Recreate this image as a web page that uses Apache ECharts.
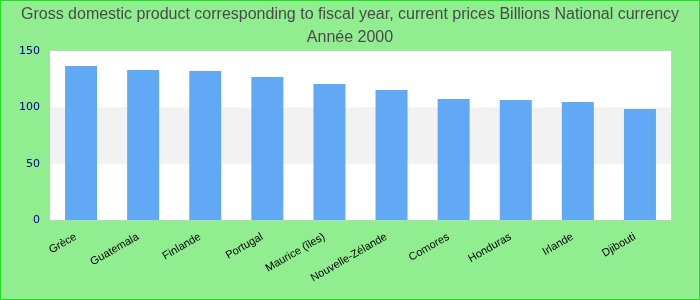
<!DOCTYPE html>
<html>
<head>
<meta charset="utf-8">
<script src="https://cdn.jsdelivr.net/npm/echarts@6/dist/echarts.min.js"></script>
<style>
html,body{margin:0;padding:0;background:#90EE90;}
#chart{width:700px;height:300px;}
</style>
</head>
<body>
<div id="chart"></div>
<script>
var categories = ["Grèce","Guatemala","Finlande","Portugal","Maurice (îles)","Nouvelle-Zélande","Comores","Honduras","Irlande","Djibouti"];
var values = [136.7, 133.1, 132.2, 126.9, 120.7, 115.4, 107.4, 106.5, 104.7, 98.5];
var yTicks = {min: 0, max: 150, interval: 50};
var titleText = "Gross domestic product corresponding to fiscal year, current prices Billions National currency\nAnnée 2000";

var chart = echarts.init(document.getElementById('chart'), null, {renderer: 'canvas'});
chart.setOption({
  backgroundColor: '#90EE90',
  animation: false,
  title: {
    text: titleText,
    left: 'center',
    top: -2,
    textStyle: {
      fontFamily: 'Liberation Sans',
      fontSize: 16,
      fontWeight: 'normal',
      color: '#4a4a4a',
      lineHeight: 23
    }
  },
  grid: {
    left: 50, right: 29, top: 51, bottom: 80,
    show: true,
    backgroundColor: '#ffffff',
    borderColor: '#cccccc',
    borderWidth: 1
  },
  xAxis: {
    type: 'category',
    data: categories,
    axisLine: {show: false},
    axisTick: {show: false},
    axisLabel: {
      rotate: 30,
      interval: 0,
      margin: 13,
      padding: [0, 6, 0, 0],
      color: '#000000',
      fontFamily: 'Liberation Sans',
      fontSize: 11
    }
  },
  yAxis: {
    type: 'value',
    min: yTicks.min, max: yTicks.max, interval: yTicks.interval,
    axisLine: {show: false},
    axisTick: {show: false},
    splitLine: {show: false},
    splitArea: {show: true, areaStyle: {color: ['#ffffff', '#f2f2f2']}},
    axisLabel: {
      color: '#00008b',
      fontFamily: 'DejaVu Sans',
      fontSize: 11,
      margin: 10
    }
  },
  series: [{
    type: 'bar',
    data: values,
    barWidth: 32,
    itemStyle: {color: '#61a8f5'}
  }],
  graphic: [{
    type: 'rect',
    shape: {x: 0.5, y: 0.5, width: 699, height: 299},
    style: {fill: 'none', stroke: '#1ee01e', lineWidth: 1},
    silent: true
  }]
});
</script>
</body>
</html>
